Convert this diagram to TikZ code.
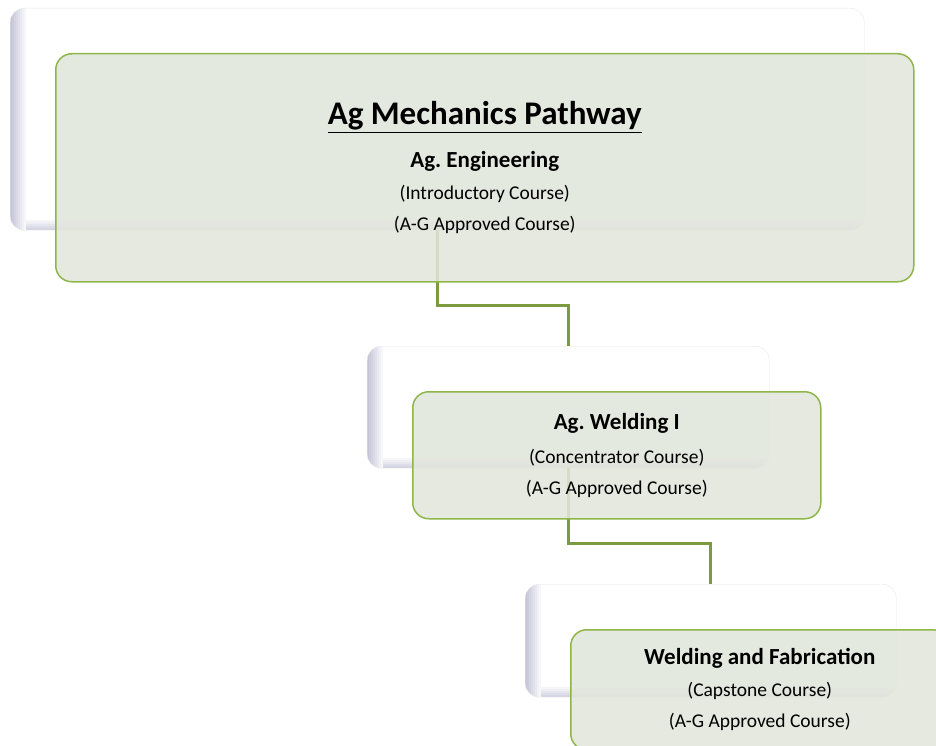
\documentclass[tikz,border=0pt]{standalone}
\usepackage{fontspec}
\setmainfont{Carlito}
\usepackage{tikz}
\usetikzlibrary{positioning, calc}
\frenchspacing
\definecolor{boxfill}{RGB}{225,230,220}
\definecolor{boxedge}{RGB}{143,182,72}
\definecolor{linkcol}{RGB}{124,155,62}
\definecolor{shadecol}{RGB}{196,196,216}
\definecolor{backedge}{RGB}{232,232,236}
\tikzstyle{backbox} = [rectangle, rounded corners=14pt, draw=backedge, fill=white, anchor=north west, inner sep=0pt, path picture={
  \foreach \i in {0,...,7}
    \fill[shadecol, sharp corners, opacity={1-\i/8}] ([xshift=\i*2pt]path picture bounding box.south west) rectangle ([xshift=\i*2pt+2pt]path picture bounding box.north west);
  \foreach \i in {0,...,4}
    \fill[shadecol, sharp corners, opacity={0.7-\i*0.14}] ([xshift=16pt, yshift=\i*2pt]path picture bounding box.south west) rectangle ([yshift=\i*2pt+2pt]path picture bounding box.south east);}]
\tikzstyle{frontbox} = [rectangle, rounded corners=16pt, draw=boxedge, line width=1.5pt, fill=boxfill, fill opacity=0.88, text opacity=1, inner sep=0pt, align=center, font=\fontsize{19.5}{31}\selectfont]
\tikzstyle{link} = [line width=3pt, draw=linkcol]
\newcommand{\coursename}[1]{{\fontsize{23}{31}\selectfont\bfseries #1}}

\begin{document}
\begin{tikzpicture}[x=1pt, y=-1pt]

    \clip (0,0) rectangle (936,746);

    % Riquadri di sfondo
    \node (back1) [backbox, minimum width=854pt, minimum height=222pt] at (10,8) {};
    \node (back2) [backbox, minimum width=402pt, minimum height=122pt] at (367,346) {};
    \node (back3) [backbox, minimum width=371pt, minimum height=113pt] at (525,584) {};

    % Collegamenti
    \draw [link] (back1.south) -- ++(0,75) -| (back2.north);
    \draw [link] (back2.south) -- ++(0,75) -| (back3.north);

    % Riquadri dei corsi
    \node (front1) [frontbox, minimum width=858pt, minimum height=228pt, below right=45pt and 45pt of back1.north west]
        {{\fontsize{33}{31}\selectfont\bfseries\underline{Ag Mechanics Pathway}}\\[12pt]
         \coursename{Ag. Engineering}\\[1pt] (Introductory Course)\\ (A-G Approved Course)};
    \node (front2) [frontbox, minimum width=408pt, minimum height=127pt, below right=45pt and 45pt of back2.north west]
        {\coursename{Ag. Welding I}\\[3pt] (Concentrator Course)\\ (A-G Approved Course)};
    \node (front3) [frontbox, minimum width=378pt, minimum height=120pt, below right=45pt and 45pt of back3.north west]
        {\coursename{Welding and Fabrication}\\[1pt] (Capstone Course)\\ (A-G Approved Course)};

\end{tikzpicture}
\end{document}
